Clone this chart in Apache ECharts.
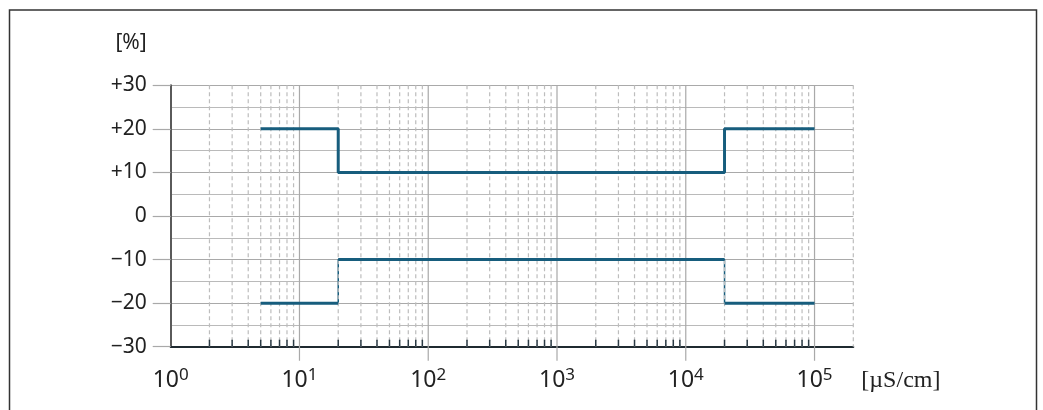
<!DOCTYPE html>
<html>
<head>
<meta charset="utf-8">
<script src="https://cdn.jsdelivr.net/npm/echarts@6/dist/echarts.min.js"></script>
<style>
  html, body { margin: 0; padding: 0; background: #fff; }
  #chart { width: 1043px; height: 410px; }
</style>
</head>
<body>
<div id="chart"></div>
<script>
// conductivity breakpoints [µS/cm] and the error limits [%] valid from each one on
const xBreaks = [5, 20, 20000, 100000];
const upperLimit = [20, 10, 20, 20];
const lowerLimit = [-20, -10, -20, -20];

// axis ticks
const yTicks = [-30, -20, -10, 0, 10, 20, 30];
const majorTicks = [10, 100, 1000, 10000, 100000];
const minorTicks = [
  2, 3, 4, 5, 6, 7, 8, 9,
  20, 30, 40, 50, 60, 70, 80, 90,
  200, 300, 400, 500, 600, 700, 800, 900,
  2000, 3000, 4000, 5000, 6000, 7000, 8000, 9000,
  20000, 30000, 40000, 50000, 60000, 70000, 80000, 90000,
  200000,
];

const lineColor = '#175d7d';
const font = 'Noto Sans';

const chart = echarts.init(document.getElementById('chart'));

const isPow10 = (v) => {
  const e = Math.log10(v);
  return Math.abs(e - Math.round(e)) < 1e-6;
};

const gridSeries = {
  type: 'custom',
  silent: true,
  z: 2,
  data: majorTicks.map((v) => [v, 1]).concat(minorTicks.map((v) => [v, 0])),
  renderItem: (params, api) => {
    const v = api.value(0);
    const major = api.value(1) === 1;
    const top = api.coord([v, yTicks[yTicks.length - 1]]);
    const bot = api.coord([v, yTicks[0]]);
    const children = [];
    if (major) {
      children.push({
        type: 'line',
        shape: { x1: top[0], y1: top[1], x2: bot[0], y2: bot[1] + 14 },
        style: { stroke: '#a9a9a9', lineWidth: 1.2 },
      });
    } else {
      children.push({
        type: 'line',
        shape: { x1: top[0], y1: top[1], x2: bot[0], y2: bot[1] },
        style: { stroke: '#bdbdbd', lineWidth: 1.2, lineDash: [4, 3] },
      });
      if (v < 100000) {
        children.push({
          type: 'line',
          shape: { x1: bot[0], y1: bot[1], x2: bot[0], y2: bot[1] - 7 },
          style: { stroke: '#2a3a44', lineWidth: 1.5 },
        });
      }
    }
    return { type: 'group', children: children };
  },
};

const stepSeries = (name, values, width, z) => ({
  name: name,
  type: 'line',
  step: 'end',
  z: z,
  symbol: 'none',
  silent: true,
  lineStyle: { color: lineColor, width: width },
  data: xBreaks.map((x, i) => [x, values[i]]),
});

// horizontal parts of the lower limit drawn thick, its risers stay thin under the grid
const lowerFlats = [];
for (let i = 0; i < xBreaks.length - 1; i++) {
  lowerFlats.push([xBreaks[i], lowerLimit[i]], [xBreaks[i + 1], lowerLimit[i]], '-');
}

chart.setOption({
  animation: false,
  graphic: [
    {
      type: 'rect',
      shape: { x: 9.5, y: 10, width: 1027, height: 430 },
      style: { fill: 'none', stroke: '#333', lineWidth: 1.5 },
      silent: true,
    },
  ],
  grid: {
    left: 170.7,
    right: 189.7,
    top: 85.3,
    bottom: 63.3,
    containLabel: false,
    outerBoundsMode: 'none',
  },
  xAxis: {
    type: 'log',
    logBase: 10,
    min: 1,
    max: 200000,
    name: '[µS/cm]',
    nameLocation: 'end',
    nameGap: 8,
    nameTextStyle: {
      fontFamily: 'Liberation Serif',
      fontSize: 24,
      color: '#222',
      align: 'left',
      verticalAlign: 'top',
      lineHeight: 68,
    },
    axisLine: { onZero: false, lineStyle: { color: '#1f2a30', width: 2 } },
    axisTick: { show: false },
    splitLine: { show: false },
    axisLabel: {
      margin: 20,
      color: '#222',
      formatter: (v) => (isPow10(v) ? '10{sup|' + Math.round(Math.log10(v)) + '}' : ''),
      rich: {
        sup: { fontFamily: font, fontSize: 17, lineHeight: 12, verticalAlign: 'top', color: '#222' },
      },
      fontFamily: font,
      fontSize: 23,
      lineHeight: 28,
    },
  },
  yAxis: {
    type: 'value',
    min: -30,
    max: 30,
    interval: 10,
    name: '[%]',
    nameLocation: 'end',
    nameGap: 42,
    nameTextStyle: {
      fontFamily: font,
      fontSize: 21,
      color: '#222',
      align: 'right',
      verticalAlign: 'middle',
      padding: [0, 24, 0, 0],
    },
    axisLine: { show: true, lineStyle: { color: '#5a5a5a', width: 2 } },
    axisTick: { show: true, length: 18, lineStyle: { color: '#a9a9a9', width: 1.2 } },
    axisLabel: {
      margin: 24,
      fontFamily: font,
      fontSize: 21,
      color: '#222',
      formatter: (v) => (v > 0 ? '+' + v : v < 0 ? '\u2212' + -v : '0'),
    },
    splitLine: { show: true, lineStyle: { color: '#a9a9a9', width: 1.2 } },
    minorTick: { show: false, splitNumber: 2 },
    minorSplitLine: { show: true, lineStyle: { color: '#bababa', width: 1.2 } },
  },
  series: [
    gridSeries,
    stepSeries('upper', upperLimit, 3, 3),
    stepSeries('lower', lowerLimit, 1.5, 1),
    {
      name: 'lower flats',
      type: 'line',
      z: 3,
      symbol: 'none',
      silent: true,
      connectNulls: false,
      lineStyle: { color: lineColor, width: 3 },
      data: lowerFlats,
    },
  ],
});
</script>
</body>
</html>
